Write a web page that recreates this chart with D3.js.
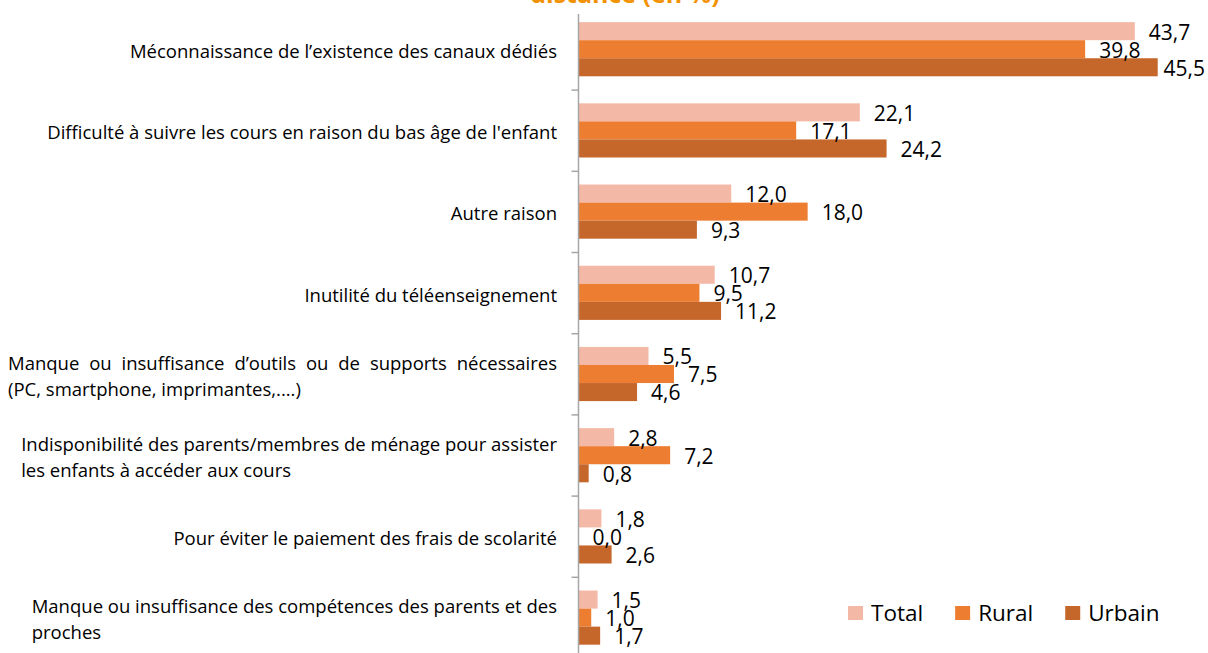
<!DOCTYPE html>
<html>
<head>
<meta charset="utf-8">
<script src="https://cdn.jsdelivr.net/npm/d3@7"></script>
<style>
  body { margin: 0; background: #fff; }
  text { font-family: "Open Sans", "Noto Sans", sans-serif; fill: #000; }
</style>
</head>
<body>
<div id="chart"></div>
<script>
// Data
const categories = [
  "Méconnaissance de l’existence des canaux dédiés",
  "Difficulté à suivre les cours en raison du bas âge de l'enfant",
  "Autre raison",
  "Inutilité du téléenseignement",
  "Manque ou insuffisance d’outils ou de supports nécessaires\n(PC, smartphone, imprimantes,....)",
  "Indisponibilité des parents/membres de ménage pour assister\nles enfants à accéder aux cours",
  "Pour éviter le paiement des frais de scolarité",
  "Manque ou insuffisance des compétences des parents et des\nproches"
];
const series = ["Total", "Rural", "Urbain"];
const totalValues  = [43.7, 22.1, 12.0, 10.7, 5.5, 2.8, 1.8, 1.5];
const ruralValues  = [39.8, 17.1, 18.0, 9.5, 7.5, 7.2, 0.0, 1.0];
const urbainValues = [45.5, 24.2, 9.3, 11.2, 4.6, 0.8, 2.6, 1.7];
const justifiedLabels = [categories[4]];
const titleText = "distance (en %)";

const config = {
  width: 1208,
  height: 653,
  axisX: 578.5,
  labelRight: 557,
  labelLeft: 8,
  colors: ["#F4B9A6", "#ED7D31", "#C5662B"]
};

const valuesBySeries = [totalValues, ruralValues, urbainValues];
const data = [];
categories.forEach((c, i) => {
  series.forEach((s, j) => data.push({cat: c, series: s, value: valuesBySeries[j][i]}));
});

const svg = d3.select("#chart").append("svg")
    .attr("width", config.width)
    .attr("height", config.height);

svg.append("rect").attr("width", config.width).attr("height", config.height).attr("fill", "#fff");

// Scales
const x = d3.scaleLinear().domain([0, 50]).range([config.axisX, 1215]);
const y = d3.scaleBand().domain(categories).range([8.9, 658.5]);
const yInner = d3.scaleBand().domain(series)
    .range([y.bandwidth() * 0.163, y.bandwidth() * 0.83]);
const color = d3.scaleOrdinal().domain(series).range(config.colors);

// Title (cut off at the top of the picture)
svg.append("text")
    .attr("x", 625)
    .attr("y", 3)
    .attr("text-anchor", "middle")
    .style("font-weight", "bold")
    .style("font-size", "25px")
    .style("fill", "#F39200")
    .text(titleText);

// Bars
svg.append("g").selectAll("rect")
  .data(data)
  .join("rect")
    .attr("x", x(0))
    .attr("y", d => y(d.cat) + yInner(d.series))
    .attr("width", d => x(d.value) - x(0))
    .attr("height", yInner.bandwidth())
    .attr("fill", d => color(d.series));

// Category axis, ticks between categories
const axis = svg.append("g");
axis.append("line")
    .attr("x1", config.axisX).attr("x2", config.axisX)
    .attr("y1", 14).attr("y2", config.height)
    .attr("stroke", "#A6A6A6").attr("stroke-width", 1.5);
axis.selectAll("line.tick")
  .data(categories.slice(0, -1))
  .join("line")
    .attr("class", "tick")
    .attr("x1", config.axisX - 7).attr("x2", config.axisX)
    .attr("y1", d => y(d) + y.bandwidth())
    .attr("y2", d => y(d) + y.bandwidth())
    .attr("stroke", "#A6A6A6").attr("stroke-width", 1.5);

// Category labels
const labelG = svg.append("g").style("font-size", "18.5px");
const measure = s => {
  const t = labelG.append("text").text(s);
  const w = t.node().getComputedTextLength();
  t.remove();
  return w;
};
categories.forEach(c => {
  const lines = c.split("\n");
  const cy = y(c) + y.bandwidth() / 2 + 2;
  if (lines.length === 1) {
    labelG.append("text")
        .attr("x", config.labelRight)
        .attr("y", cy)
        .attr("dy", "0.35em")
        .attr("text-anchor", "end")
        .text(c);
    return;
  }
  const lineH = 26;
  const y0 = cy - lineH / 2;
  const justify = justifiedLabels.includes(c);
  const natural = measure(lines[0]);
  const left = justify ? config.labelLeft : Math.max(config.labelLeft, config.labelRight - natural);
  if (justify) {
    // spread the words of the first line between left and right edges
    const words = lines[0].split(" ");
    const widths = words.map(measure);
    const gap = (config.labelRight - left - d3.sum(widths)) / (words.length - 1);
    let cx = left;
    words.forEach((w, k) => {
      labelG.append("text")
          .attr("x", cx)
          .attr("y", y0)
          .attr("dy", "0.35em")
          .text(w);
      cx += widths[k] + gap;
    });
  } else {
    labelG.append("text")
        .attr("x", left)
        .attr("y", y0)
        .attr("dy", "0.35em")
        .text(lines[0]);
  }
  labelG.append("text")
      .attr("x", left)
      .attr("y", y0 + lineH)
      .attr("dy", "0.35em")
      .text(lines[1]);
});

// Value labels
const fmt = v => v.toFixed(1).replace(".", ",");
svg.append("g").style("font-size", "21px")
  .selectAll("text")
  .data(data)
  .join("text")
    .attr("x", d => x(d.value) + 14)
    .attr("y", d => y(d.cat) + yInner(d.series) + yInner.bandwidth() / 2 + 1)
    .attr("dy", "0.35em")
    .text(d => fmt(d.value))
    .each(function() {
      const t = d3.select(this);
      const w = this.getComputedTextLength();
      if (+t.attr("x") + w > config.width - 3) {
        t.attr("x", config.width - 3).attr("text-anchor", "end");
      }
    });

// Legend
const legend = svg.append("g").attr("transform", "translate(848,613)");
let lx = 0;
series.forEach(s => {
  legend.append("rect")
      .attr("x", lx).attr("y", -7)
      .attr("width", 15).attr("height", 14)
      .attr("fill", color(s));
  const t = legend.append("text")
      .attr("x", lx + 23)
      .attr("y", 0)
      .attr("dy", "0.35em")
      .style("font-size", "22.5px")
      .text(s);
  lx += 23 + t.node().getComputedTextLength() + 32;
});
</script>
</body>
</html>
